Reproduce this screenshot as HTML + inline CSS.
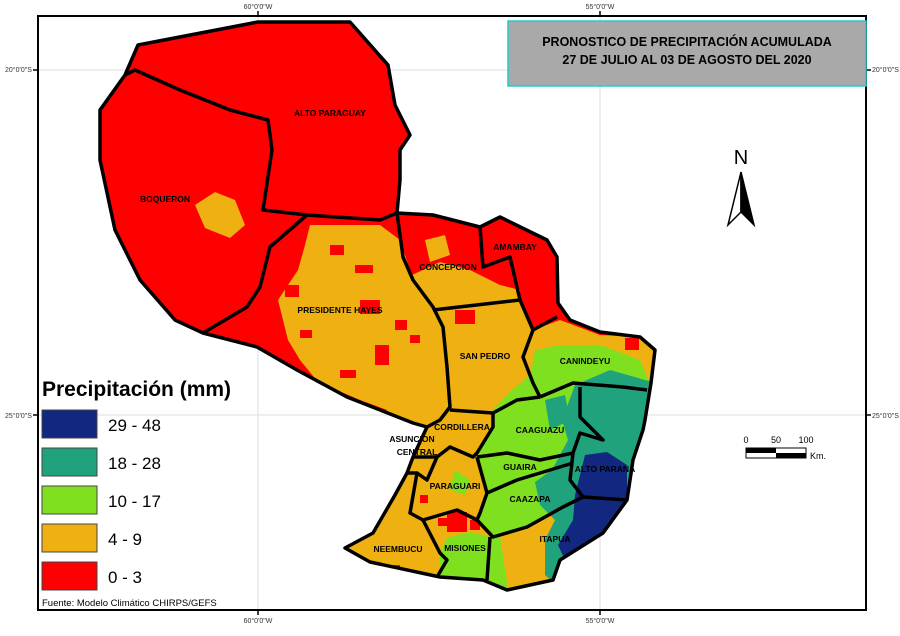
<!DOCTYPE html>
<html><head><meta charset="utf-8"><style>
body{margin:0;background:#fff;}
svg{display:block;font-family:"Liberation Sans",Arial,sans-serif;}
</style></head><body>
<svg width="900" height="636" viewBox="0 0 900 636">
<rect width="900" height="636" fill="#fff"/>
<defs>
<clipPath id="cty"><path d="M138,45 L258,22 L350,22 L388,65 L395,105 L410,135 L400,150 L400,180 L397,213 L433,215 L480,227 L500,217 L547,240 L557,257 L558,303 L570,320 L600,332 L640,337 L655,350 L651,383 L645,420 L643,430 L633,460 L627,500 L603,533 L560,560 L553,580 L507,590 L483,580 L440,577 L370,562 L345,548 L373,533 L395,495 L407,473 L413,457 L427,427 L413,423 L347,397 L297,370 L257,347 L203,333 L175,320 L140,280 L115,230 L100,160 L100,110 L125,75 Z"/></clipPath>
</defs>
<g stroke="#ddd" stroke-width="1">
<line x1="258" y1="16" x2="258" y2="610"/><line x1="600" y1="16" x2="600" y2="610"/>
<line x1="38" y1="70" x2="866" y2="70"/><line x1="38" y1="415" x2="866" y2="415"/>
</g>
<rect x="38" y="16" width="828" height="594" fill="none" stroke="#000" stroke-width="2"/>
<g stroke="#000" stroke-width="1.5">
<line x1="258" y1="11" x2="258" y2="16"/><line x1="600" y1="11" x2="600" y2="16"/>
<line x1="258" y1="610" x2="258" y2="615"/><line x1="600" y1="610" x2="600" y2="615"/>
<line x1="33" y1="70" x2="38" y2="70"/><line x1="33" y1="415" x2="38" y2="415"/>
<line x1="866" y1="70" x2="871" y2="70"/><line x1="866" y1="415" x2="871" y2="415"/>
</g>
<g font-size="7" fill="#333">
<text x="258" y="9" text-anchor="middle">60°0'0"W</text><text x="600" y="9" text-anchor="middle">55°0'0"W</text>
<text x="258" y="623" text-anchor="middle">60°0'0"W</text><text x="600" y="623" text-anchor="middle">55°0'0"W</text>
<text x="5" y="72">20°0'0"S</text><text x="5" y="418">25°0'0"S</text>
<text x="872" y="72">20°0'0"S</text><text x="872" y="418">25°0'0"S</text>
</g>
<g clip-path="url(#cty)">
<rect x="90" y="15" width="580" height="590" fill="#ff0000"/>
<!-- orange east region -->
<path d="M420,300 L520,300 L533,330 L560,320 L600,335 L640,337 L660,350 L660,600 L330,600 L330,420 L447,400 Z" fill="#efb111"/>
<!-- Hayes orange -->
<path d="M310,225 L380,225 L400,240 L410,270 L440,320 L450,410 L420,422 L360,400 L318,382 L300,360 L288,340 L278,300 L298,270 L305,245 Z" fill="#efb111"/>
<!-- Concepcion orange patch -->
<path d="M412,275 L440,262 L470,270 L500,285 L520,290 L520,300 L433,308 Z" fill="#efb111"/>
<path d="M425,240 L445,235 L450,255 L430,262 Z" fill="#efb111"/>
<!-- Boqueron orange patch -->
<path d="M195,205 L215,192 L235,200 L245,225 L230,238 L205,228 Z" fill="#efb111"/>
<!-- red spots -->
<g fill="#ff0000">
<rect x="360" y="300" width="20" height="14"/><rect x="375" y="345" width="14" height="20"/><rect x="330" y="245" width="14" height="10"/>
<rect x="300" y="330" width="12" height="8"/><rect x="355" y="265" width="18" height="8"/><rect x="395" y="320" width="12" height="10"/>
<rect x="340" y="370" width="16" height="8"/><rect x="410" y="335" width="10" height="8"/><rect x="285" y="285" width="14" height="12"/>
<rect x="455" y="310" width="20" height="14"/>
<rect x="447" y="512" width="20" height="20"/><rect x="438" y="518" width="10" height="8"/><rect x="470" y="520" width="10" height="10"/>
<rect x="420" y="495" width="8" height="8"/><rect x="625" y="338" width="14" height="12"/><rect x="390" y="565" width="10" height="8"/>
</g>
<!-- green -->
<g fill="#7fe01f">
<path d="M535,350 L560,345 L600,345 L640,360 L652,388 L620,388 L580,388 L545,397 L530,380 Z"/>
<path d="M490,413 L510,392 L530,375 L545,397 Z"/>
<path d="M493,413 L540,397 L582,387 L582,460 L540,462 L507,455 L477,457 L493,427 Z"/>
<path d="M477,457 L575,453 L575,465 L487,493 Z"/>
<path d="M487,493 L575,463 L585,497 L527,527 L493,537 L477,520 Z"/>
<path d="M440,553 L447,538 L470,532 L490,537 L487,582 L440,580 Z"/>
<path d="M487,537 L502,535 L508,592 L487,582 Z"/>
<path d="M455,470 L470,480 L465,495 L450,490 Z"/>
</g>
<!-- Itapua orange -->
<path d="M500,535 L545,522 L548,572 L508,590 Z" fill="#efb111"/>
<!-- teal -->
<path d="M575,385 L610,370 L652,382 L645,420 L643,430 L633,460 L627,500 L603,533 L560,560 L553,582 L545,575 L545,540 L555,520 L540,505 L535,482 L552,470 L568,440 L562,420 Z" fill="#20a37d"/>
<path d="M545,400 L565,395 L570,420 L550,430 Z" fill="#20a37d"/>
<!-- navy -->
<path d="M585,455 L607,452 L627,465 L627,500 L603,533 L565,560 L558,545 L573,520 L575,495 Z" fill="#122880"/>
</g>
<!-- department borders -->
<g fill="none" stroke="#000" stroke-width="3.5" stroke-linejoin="round">
<path d="M138,45 L258,22 L350,22 L388,65 L395,105 L410,135 L400,150 L400,180 L397,213 L433,215 L480,227 L500,217 L547,240 L557,257 L558,303 L570,320 L600,332 L640,337 L655,350 L651,383 L645,420 L643,430 L633,460 L627,500 L603,533 L560,560 L553,580 L507,590 L483,580 L440,577 L370,562 L345,548 L373,533 L395,495 L407,473 L413,457 L427,427 L413,423 L347,397 L297,370 L257,347 L203,333 L175,320 L140,280 L115,230 L100,160 L100,110 L125,75 Z"/>
<path d="M125,75 L135,70 L180,90 L230,110 L268,120 L272,150 L263,210 L307,215 L380,220 L397,213"/>
<path d="M307,215 L270,247 L260,287 L247,307 L203,333"/>
<path d="M397,213 L403,257 L413,280 L433,307 L443,327 L447,367 L450,407 L440,420 L427,427"/>
<path d="M480,227 L483,267 L510,257 L520,300"/>
<path d="M433,310 L520,300 L533,330 L557,317"/>
<path d="M533,330 L523,357 L533,383 L540,397"/>
<path d="M540,397 L517,400 L493,413 L450,410"/>
<path d="M540,397 L573,383 L623,387 L647,390"/>
<path d="M580,387 L580,417 L603,440 L580,433 L573,453 L570,480 L583,497 L627,500"/>
<path d="M493,413 L493,427 L477,453 L473,457 L450,447 L437,457"/>
<path d="M477,457 L507,453 L540,460 L573,453"/>
<path d="M487,493 L517,480 L573,463"/>
<path d="M413,457 L437,457 L427,480 L417,473"/>
<path d="M477,457 L487,493 L480,513 L477,520"/>
<path d="M477,520 L493,537 L527,527 L563,507 L583,497"/>
<path d="M407,473 L417,473 L410,513 L423,520 L457,510 L477,520"/>
<path d="M423,520 L440,553 L447,560 L437,577"/>
<path d="M490,537 L487,580"/>
</g>
<g font-size="8.5" font-weight="bold" fill="#000" text-anchor="middle">
<text x="330" y="116">ALTO PARAGUAY</text><text x="165" y="202">BOQUERON</text>
<text x="515" y="250">AMAMBAY</text><text x="448" y="270">CONCEPCION</text>
<text x="340" y="313">PRESIDENTE HAYES</text><text x="485" y="359">SAN PEDRO</text>
<text x="585" y="364">CANINDEYU</text><text x="540" y="433">CAAGUAZU</text>
<text x="462" y="430">CORDILLERA</text><text x="412" y="442">ASUNCION</text><text x="417" y="455">CENTRAL</text>
<text x="520" y="470">GUAIRA</text><text x="605" y="472">ALTO PARANA</text>
<text x="455" y="489">PARAGUARI</text><text x="530" y="502">CAAZAPA</text>
<text x="398" y="552">NEEMBUCU</text><text x="465" y="551">MISIONES</text><text x="555" y="542">ITAPUA</text>
</g>
<rect x="508" y="21" width="358" height="65" fill="#a9a9a9" stroke="#2cc" stroke-width="1.5"/>
<text x="687" y="46" font-size="12.5" font-weight="bold" text-anchor="middle">PRONOSTICO DE PRECIPITACIÓN ACUMULADA</text>
<text x="687" y="64" font-size="12.5" font-weight="bold" text-anchor="middle">27 DE JULIO AL 03 DE AGOSTO DEL 2020</text>
<text x="741" y="164" font-size="20" text-anchor="middle">N</text>
<path d="M741,172 L728,225 L741,212 Z" fill="#fff" stroke="#000" stroke-width="1.5"/>
<path d="M741,172 L754,225 L741,212 Z" fill="#000" stroke="#000" stroke-width="1.5"/>
<g font-size="9" fill="#000"><text x="746" y="443" text-anchor="middle">0</text><text x="776" y="443" text-anchor="middle">50</text><text x="806" y="443" text-anchor="middle">100</text><text x="810" y="459">Km.</text></g>
<rect x="746" y="448" width="60" height="10" fill="#fff" stroke="#000"/>
<rect x="746" y="448" width="30" height="5" fill="#000"/><rect x="776" y="453" width="30" height="5" fill="#000"/>
<text x="42" y="396" font-size="21" font-weight="bold">Precipitación (mm)</text>
<g stroke="#444" stroke-width="1">
<rect x="42" y="410" width="55" height="28" fill="#122880"/>
<rect x="42" y="448" width="55" height="28" fill="#20a37d"/>
<rect x="42" y="486" width="55" height="28" fill="#7fe01f"/>
<rect x="42" y="524" width="55" height="28" fill="#efb111"/>
<rect x="42" y="562" width="55" height="28" fill="#ff0000"/>
</g>
<g font-size="17" fill="#000">
<text x="108" y="431">29 - 48</text><text x="108" y="469">18 - 28</text><text x="108" y="507">10 - 17</text>
<text x="108" y="545">4 - 9</text><text x="108" y="583">0 - 3</text>
</g>
<text x="42" y="606" font-size="9.5">Fuente: Modelo Climático CHIRPS/GEFS</text>
</svg>
</body></html>
